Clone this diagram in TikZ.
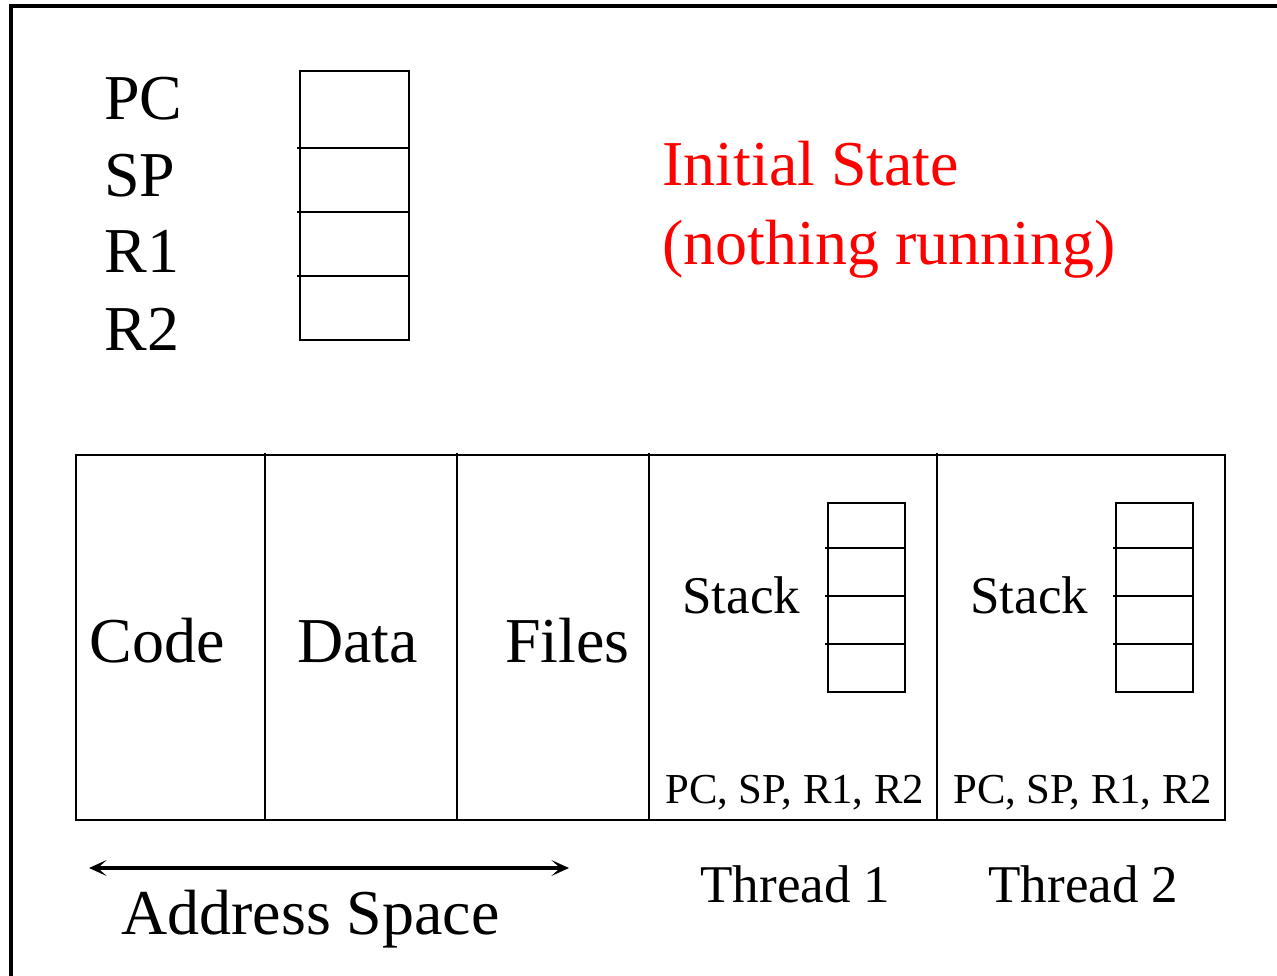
\documentclass[tikz,border=0pt]{standalone}
\usepackage{fontspec}
\setmainfont{Liberation Serif}
\usetikzlibrary{arrows.meta}

\begin{document}
\begin{tikzpicture}[x=0.02cm, y=-0.02cm, line width=1.6pt,
  big/.style={anchor=base west, inner sep=0pt, font=\fontsize{36.4}{44}\selectfont},
  mid/.style={anchor=base west, inner sep=0pt, font=\fontsize{30.2}{36}\selectfont},
  small/.style={anchor=base west, inner sep=0pt, font=\fontsize{24.3}{29}\selectfont},
  pil/.style={line width=1.8pt, {Stealth[length=10pt,width=9pt,inset=5pt]}-{Stealth[length=10pt,width=9pt,inset=5pt]}}]
  \useasboundingbox (0,0) rectangle (1277,976);
  \clip (0,0) rectangle (1277,976);

%Ramme
  \draw[line width=2pt] (11,6) rectangle (1300,1000);

%Registre
  \node[big] (pc) at (103,120) {PC};
  \node[big] (sp) at (103,197) {SP};
  \node[big] (r1) at (103,273) {R1};
  \node[big] (r2) at (103,350) {R2};
  \draw (300,71) rectangle (409,340);
  \foreach \y in {148,212,276}
    \draw (297,\y) -- (409,\y);

%Tittel
  \node[big, text=red] (tittel) at (661,186) {Initial State};
  \node[big, text=red] (under) at (661,265) {(nothing running)};

%Adresserom
  \draw (76,455) rectangle (1225,820);
  \foreach \x in {265,457,649,937}
    \draw (\x,453) -- (\x,820);
  \node[big] (code) at (88,662) {Code};
  \node[big] (data) at (296,662) {Data};
  \node[big] (files) at (504,662) {Files};

%Stakker
  \foreach \x/\n in {681/1,969/2} {
    \node[mid] (stack\n) at (\x,613) {Stack};
    \node[small] (regs\n) at (\x-17,803) {PC, SP, R1, R2};
    \node[mid] (thread\n) at (\x+18,902) {Thread \n};
    \draw (828+\x-681,503) rectangle (905+\x-681,692);
    \foreach \y in {548,596,644}
      \draw (825+\x-681,\y) -- (905+\x-681,\y);
  }

% Pil
  \coordinate (venstre) at (89,868);
  \coordinate (hoyre) at (569,868);
  \draw[pil] (venstre) -- (hoyre);
  \node[big] (adr) at (120,934) {Address Space};

\end{tikzpicture}
\end{document}
